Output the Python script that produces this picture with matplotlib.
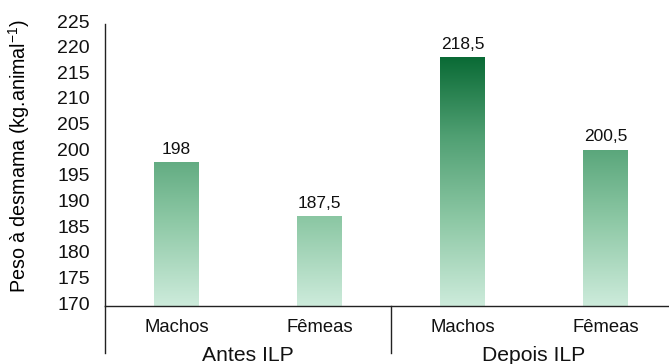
import numpy as np
import matplotlib.pyplot as plt
from matplotlib.colors import LinearSegmentedColormap
import matplotlib.transforms as mtransforms

plt.rcParams['font.family'] = ['Liberation Sans', 'DejaVu Sans']
plt.rcParams['mathtext.fontset'] = 'custom'
plt.rcParams['mathtext.rm'] = 'Liberation Sans'
plt.rcParams['mathtext.it'] = 'Liberation Sans'

categories = ['Machos', 'Fêmeas', 'Machos', 'Fêmeas']
groups = ['Antes ILP', 'Depois ILP']
values = [198, 187.5, 218.5, 200.5]
value_labels = ['198', '187,5', '218,5', '200,5']
yticks = list(range(170, 226, 5))

fig = plt.figure(figsize=(6.69, 3.64), dpi=100)
ax = fig.add_axes([105 / 669, 58 / 364, 572 / 669, 282 / 364])

x = np.arange(len(values))
ymin, ymax = 170, 225
xmin, xmax = -0.5, 3.5

cmap = LinearSegmentedColormap.from_list('g', ['#cdebdb', '#8dc8a5', '#4f9f72', '#03652f'])
grad = np.linspace(0, 1, 256).reshape(-1, 1)

bars = ax.bar(x, [v - ymin for v in values], bottom=ymin, width=0.31, color='none')
for b in bars:
    im = ax.imshow(grad, cmap=cmap, aspect='auto', origin='lower',
                   extent=(xmin, xmax, 170, 220), vmin=0, vmax=1, zorder=1)
    im.set_clip_path(b)
ax.set_xlim(xmin, xmax)
ax.set_ylim(ymin, ymax)

for xi, v, lab in zip(x, values, value_labels):
    ax.annotate(lab, (xi, v), xytext=(0, 4), textcoords='offset points',
                ha='center', va='bottom', fontsize=12.5, color='#111111')

ax.set_yticks(yticks)
ax.tick_params(axis='y', length=0, pad=11, labelsize=14, colors='#111111')
shift = mtransforms.ScaledTranslation(0, 3 / 100, fig.dpi_scale_trans)
for lab in ax.get_yticklabels():
    lab.set_transform(lab.get_transform() + shift)
ax.set_xticks(x)
ax.set_xticklabels(categories, fontsize=13.3)
ax.tick_params(axis='x', length=0, pad=9, colors='#111111')
for s in ['top', 'right']:
    ax.spines[s].set_visible(False)
for s in ['left', 'bottom']:
    ax.spines[s].set_color('#222222')
    ax.spines[s].set_linewidth(1.0)

ax.set_ylabel('Peso à desmama (kg.animal$^{\\mathregular{-1}}$)', fontsize=14.2)
ax.yaxis.set_label_coords(-0.128, 0.532)

trans = mtransforms.blended_transform_factory(ax.transData, ax.transAxes)
for sx in [xmin, 1.5, 3.5]:
    ax.plot([sx, sx], [0, -0.165], transform=trans, color='#222222', lw=1.0, clip_on=False)
for gi, g in enumerate(groups):
    ax.text(gi * 2 + 0.5, -0.175, g, transform=trans, ha='center', va='center',
            fontsize=15.2, color='#111111')

fig.savefig('out.png', dpi=100)
